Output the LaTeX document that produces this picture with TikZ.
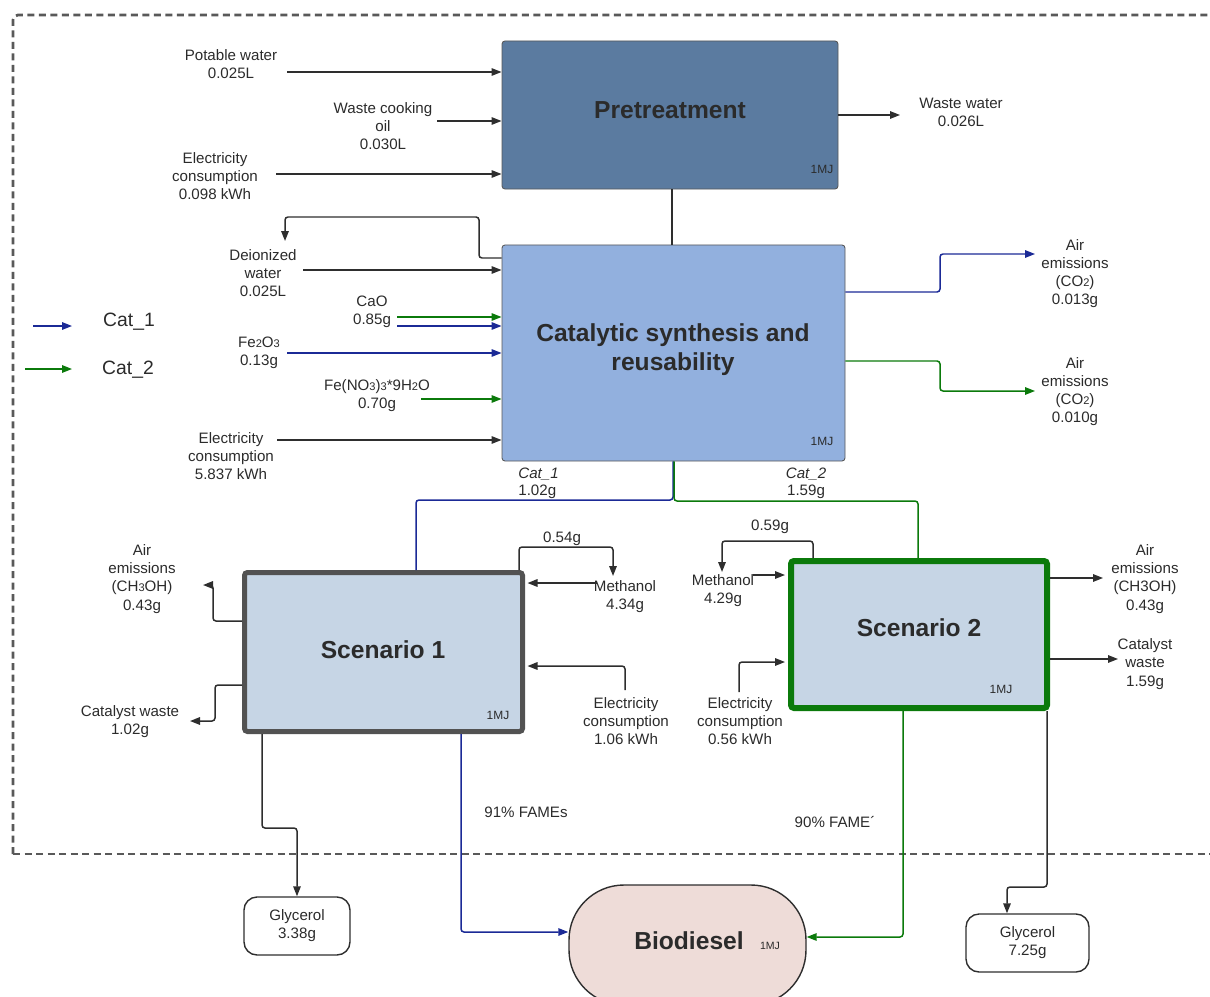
\documentclass[tikz,border=0pt]{standalone}
\usepackage{fontspec}
\setmainfont{Liberation Sans}
\usetikzlibrary{arrows.meta,calc}
\definecolor{txt}{HTML}{2B2B2B}
\definecolor{ln}{HTML}{2E2E2E}
\definecolor{bl}{HTML}{1B2A96}
\definecolor{gr}{HTML}{0B7A0B}
\definecolor{preF}{HTML}{5B7BA0}
\definecolor{catF}{HTML}{92B0DE}
\definecolor{scF}{HTML}{C6D5E5}
\definecolor{bioF}{HTML}{EEDCD8}
\newcommand\sm[1]{{\fontsize{6.3}{6}\selectfont #1}}
\tikzset{
  lbl/.style={font=\fontsize{8.6}{10.3}\selectfont, align=center, text=txt, inner sep=0pt},
  ttl/.style={font=\fontsize{14}{16.5}\selectfont\bfseries, align=center, text=txt, inner sep=0pt},
  mj/.style={font=\fontsize{6.8}{7}\selectfont, text=txt, inner sep=0pt},
  con/.style={draw=ln, line width=0.85pt, rounded corners=0.6mm},
  arr/.style={con, -{Triangle[length=2mm,width=1.5mm]}},
  blc/.style={draw=bl, color=bl},
  grc/.style={draw=gr, color=gr},
  boxA/.style={draw=ln!80, line width=0.5pt, rounded corners=0.6mm, inner sep=0pt},
}
\begin{document}
\begin{tikzpicture}[x=0.2mm,y=-0.2mm]
\useasboundingbox (0,0) rectangle (1210,996);
% dashed system boundary
\draw[draw=black!65, line width=0.55mm, dash pattern=on 1.4mm off 0.9mm, rounded corners=1mm] (13,854) -- (13,15) -- (1260,15);
\draw[draw=black!65, line width=0.55mm, dash pattern=on 1.4mm off 0.9mm] (13,854) -- (1260,854);

% boxes
\node[boxA, fill=preF, minimum width=67.2mm, minimum height=29.6mm] (pre) at (670,115) {};
\node[ttl] (preT) at (670,110) {Pretreatment};
\node[mj] (preM) at (822,169) {1MJ};

\node[boxA, fill=catF, minimum width=68.6mm, minimum height=43.2mm] (cat) at (673.5,353) {};
\node[ttl] (catT) at (673,350) {Catalytic synthesis and\\reusability};
\node[mj] (catM) at (822,441) {1MJ};

\node[draw=black!68, fill=scF, line width=1mm, rounded corners=0.6mm, minimum width=55.6mm, minimum height=31.8mm, inner sep=0pt] (s1) at (383.5,652) {};
\node[ttl] (s1T) at (383,650) {Scenario 1};
\node[mj] (s1M) at (498,715) {1MJ};

\node[draw=gr, fill=scF, line width=1.2mm, rounded corners=0.6mm, minimum width=51.2mm, minimum height=29.4mm, inner sep=0pt] (s2) at (919,634.5) {};
\node[ttl] (s2T) at (919,628) {Scenario 2};
\node[mj] (s2M) at (1001,689) {1MJ};

\node[draw=ln, fill=bioF, line width=0.8pt, rounded corners=11mm, minimum width=47.4mm, minimum height=24mm, inner sep=0pt] (bio) at (687.5,945) {};
\node[ttl] (bioT) at (689,941) {Biodiesel};
\node[mj, font=\fontsize{6}{6}\selectfont] (bioM) at (770,946) {1MJ};

\node[draw=ln, line width=0.8pt, rounded corners=2.6mm, minimum width=21.2mm, minimum height=11.6mm, lbl] (gly1) at (297,926) {Glycerol\\3.38g};
\node[draw=ln, line width=0.8pt, rounded corners=2.6mm, minimum width=24.6mm, minimum height=11.6mm, lbl] (gly2) at (1027.5,943) {Glycerol\\7.25g};

% legend
\coordinate (lg1S) at (33,326); \coordinate (lg1E) at (72,326);
\coordinate (lg2S) at (25,369); \coordinate (lg2E) at (72,369);
\draw[arr, blc] (lg1S) -- (lg1E);
\draw[arr, grc] (lg2S) -- (lg2E);
\node[lbl, font=\fontsize{11}{12}\selectfont] (lgT1) at (129,322) {Cat\_1};
\node[lbl, font=\fontsize{11}{12}\selectfont] (lgT2) at (128,370) {Cat\_2};

% pretreatment inputs / output
\node[lbl] (pw) at (231,64) {Potable water\\0.025L};
\node[lbl] (wco) at (383,126) {Waste cooking\\oil\\0.030L};
\node[lbl] (el1) at (215,176) {Electricity\\consumption\\0.098 kWh};
\node[lbl] (ww) at (961,112) {Waste water\\0.026L};
\coordinate (pwS) at (287,72);
\coordinate (wcoS) at (437,121);
\coordinate (el1S) at (276,174);
\coordinate (wwE) at (900,115);
\draw[arr] (pwS) -- (pwS -| pre.west);
\draw[arr] (wcoS) -- (wcoS -| pre.west);
\draw[arr] (el1S) -- (el1S -| pre.west);
\draw[arr] (pre.east |- wwE) -- (wwE);
\draw[con] (pre.south -| 672,0) -- (cat.north -| 672,0);

% catalytic inputs
\node[lbl] (di) at (263,273) {Deionized\\water\\0.025L};
\node[lbl] (cao) at (372,312) {CaO\\0.85g};
\node[lbl] (fe) at (259,353) {Fe\sm{2}O\sm{3}\\0.13g};
\node[lbl] (fen) at (377,396) {Fe(NO\sm{3})\sm{3}*9H\sm{2}O\\0.70g};
\node[lbl] (el2) at (231,456) {Electricity\\consumption\\5.837 kWh};
\coordinate (diE) at (285,241);
\coordinate (diS) at (303,270);
\coordinate (caoG) at (397,317);
\coordinate (caoB) at (397,326);
\coordinate (feS) at (287,353);
\coordinate (fenS) at (421,399);
\coordinate (el2S) at (277,440);
\draw[arr] (cat.west |- 0,258) -- (479,258) |- (diE |- 0,217) -- (diE);
\draw[arr] (diS) -- (diS -| cat.west);
\draw[arr, grc] (caoG) -- (caoG -| cat.west);
\draw[arr, blc] (caoB) -- (caoB -| cat.west);
\draw[arr, blc] (feS) -- (feS -| cat.west);
\draw[arr, grc] (fenS) -- (fenS -| cat.west);
\draw[arr] (el2S) -- (el2S -| cat.west);

% catalytic outputs
\node[lbl] (co1) at (1075,273.5) {Air\\emissions\\(CO\sm{2})\\0.013g};
\node[lbl] (co2) at (1075,391.5) {Air\\emissions\\(CO\sm{2})\\0.010g};
\coordinate (co1E) at (1035,254);
\coordinate (co2E) at (1035,391);
\draw[arr, blc] (cat.east |- 0,292) -- (940,292) |- (co1E);
\draw[arr, grc] (cat.east |- 0,361) -- (940,361) |- (co2E);

\node[lbl, anchor=west, font=\fontsize{8.6}{10.3}\selectfont\itshape] (c1l) at (518,474) {Cat\_1};
\node[lbl, anchor=west] (c1w) at (518,492) {1.02g};
\node[lbl, font=\fontsize{8.6}{10.3}\selectfont\itshape] (c2l) at (806,474) {Cat\_2};
\node[lbl] (c2w) at (806,492) {1.59g};
\coordinate (b1) at (416,500);
\coordinate (g1) at (918,501);
\draw[con, blc] (cat.south -| 673,0) |- (b1) -- (b1 |- s1.north);
\draw[con, grc] (cat.south -| 674,0) |- (g1) -- (g1 |- s2.north);

% scenario 1
\node[lbl] (m1l) at (562,539) {0.54g};
\node[lbl] (me1) at (625,597) {Methanol\\4.34g};
\node[lbl] (e3) at (626,721) {Electricity\\consumption\\1.06 kWh};
\node[lbl] (a1) at (142,579) {Air\\emissions\\(CH\sm{3}OH)\\0.43g};
\node[lbl] (cw1) at (130,722) {Catalyst waste\\1.02g};
\node[lbl] (fames) at (526,812) {91\% FAMEs};
\coordinate (m1E) at (613,576);
\coordinate (m1S) at (597,583);
\coordinate (e3S) at (625,690);
\coordinate (a1E) at (203,585);
\coordinate (cw1E) at (190,721);
\draw[arr] (s1.north -| 519,0) |- (m1E |- 0,547) -- (m1E);
\draw[arr, shorten >=0.5mm] (m1S) -- (m1S -| s1.east);
\draw[arr, shorten >=0.5mm] (e3S) |- (s1.east |- 0,666);
\draw[arr] (s1.west |- 0,621) -- (213,621) |- (a1E);
\draw[arr] (s1.west |- 0,685) -- (215,685) |- (cw1E);
\draw[arr] (s1.south -| 262,0) -- (262,828) -| (gly1.north);
\draw[arr, blc] (s1.south -| 461,0) |- (bio.west |- 0,932);

% scenario 2
\node[lbl] (m2l) at (770,527) {0.59g};
\node[lbl] (me2) at (723,591) {Methanol\\4.29g};
\node[lbl] (e4) at (740,721) {Electricity\\consumption\\0.56 kWh};
\node[lbl] (a2) at (1145,579) {Air\\emissions\\(CH3OH)\\0.43g};
\node[lbl] (cw2) at (1145,664) {Catalyst\\waste\\1.59g};
\node[lbl] (fame2) at (835,822) {90\% FAME´};
\coordinate (m2E) at (722,572);
\coordinate (m2S) at (753,575);
\coordinate (e4S) at (739,692);
\coordinate (a2E) at (1103,578);
\coordinate (cw2E) at (1118,659);
\draw[arr] (s2.north -| 813,0) |- (m2E |- 0,541) -- (m2E);
\draw[arr, shorten >=0.6mm] (m2S) -- (m2S -| s2.west);
\draw[arr, shorten >=0.6mm] (e4S) |- (s2.west |- 0,662);
\draw[arr] (s2.east |- a2E) -- (a2E);
\draw[arr] (s2.east |- cw2E) -- (cw2E);
\draw[arr, grc] (s2.south -| 903,0) |- (bio.east |- 0,937);
\draw[arr] (s2.south -| 1047,0) |- (1007,887) -- (gly2.north -| 1007,0);
\end{tikzpicture}
\end{document}
